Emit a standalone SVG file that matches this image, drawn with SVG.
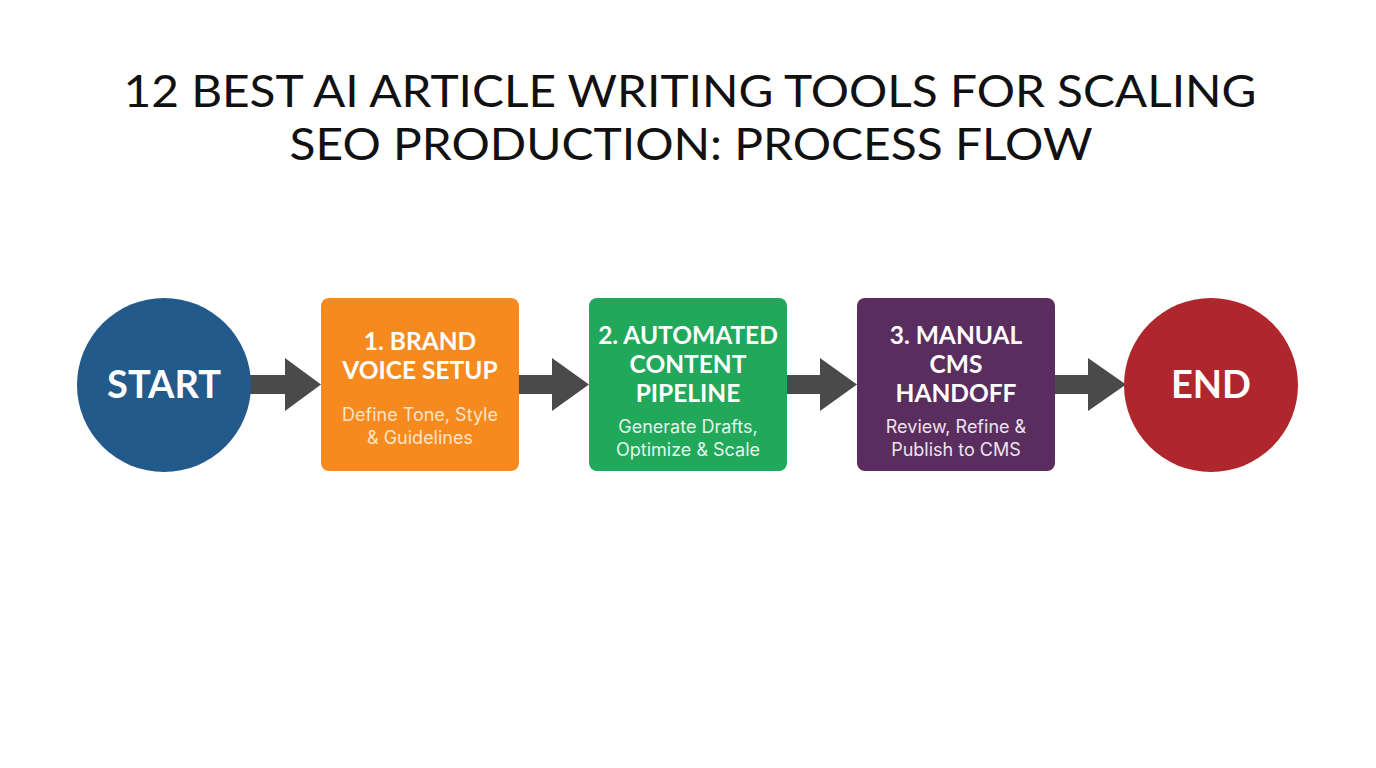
<svg xmlns="http://www.w3.org/2000/svg" width="1376" height="768" viewBox="0 0 1376 768">
<style>
.title{font-family:"Lato","Liberation Sans",sans-serif;font-size:44px;fill:#111;text-anchor:middle}
.head{font-family:"Lato","Liberation Sans",sans-serif;font-weight:700;font-size:24.5px;fill:#fff;text-anchor:middle}
.big{font-family:"Lato","Liberation Sans",sans-serif;font-weight:700;font-size:38px;fill:#fff;text-anchor:middle}
.sub{font-family:"Inter","Liberation Sans",sans-serif;font-size:18px;text-anchor:middle}
.arrow{fill:#4a4a4a}
</style>
<rect width="1376" height="768" fill="#fff"/>
<g id="title">
<text class="title" x="690" y="107" textLength="1133" lengthAdjust="spacingAndGlyphs">12 BEST AI ARTICLE WRITING TOOLS FOR SCALING</text>
<text class="title" x="691" y="160" textLength="803" lengthAdjust="spacingAndGlyphs">SEO PRODUCTION: PROCESS FLOW</text>
</g>
<g id="connectors">
<path class="arrow" d="M250 375H285V358L321 384.5L285 411V394H250Z"/>
<path class="arrow" d="M518 375H552V358L589 384.5L552 411V394H518Z"/>
<path class="arrow" d="M786 375H820V358L857 384.5L820 411V394H786Z"/>
<path class="arrow" d="M1054 375H1088V358L1126 384.5L1088 411V394H1054Z"/>
</g>
<g id="start">
<circle cx="164" cy="385" r="87" fill="#235A8C"/>
<text class="big" x="164" y="398">START</text>
</g>
<g id="step1">
<rect x="321" y="298" width="198" height="173" rx="8" fill="#F68A1F"/>
<text class="head" x="420" y="350">1. BRAND</text>
<text class="head" x="420" y="379">VOICE SETUP</text>
<text class="sub" x="420" y="421" fill="#FDE3C8">Define Tone, Style</text>
<text class="sub" x="420" y="444" fill="#FDE3C8">&amp; Guidelines</text>
</g>
<g id="step2">
<rect x="589" y="298" width="198" height="173" rx="8" fill="#22A85B"/>
<text class="head" x="688" y="344">2. AUTOMATED</text>
<text class="head" x="688" y="373">CONTENT</text>
<text class="head" x="688" y="402">PIPELINE</text>
<text class="sub" x="688" y="433" fill="#E3F5EA">Generate Drafts,</text>
<text class="sub" x="688" y="456" fill="#E3F5EA">Optimize &amp; Scale</text>
</g>
<g id="step3">
<rect x="857" y="298" width="198" height="173" rx="8" fill="#5A2D5F"/>
<text class="head" x="956" y="344">3. MANUAL</text>
<text class="head" x="956" y="373">CMS</text>
<text class="head" x="956" y="402">HANDOFF</text>
<text class="sub" x="956" y="433" fill="#EDE3EE">Review, Refine &amp;</text>
<text class="sub" x="956" y="456" fill="#EDE3EE">Publish to CMS</text>
</g>
<g id="end">
<circle cx="1211" cy="385" r="87" fill="#B0262D"/>
<text class="big" x="1211" y="398">END</text>
</g>
</svg>
